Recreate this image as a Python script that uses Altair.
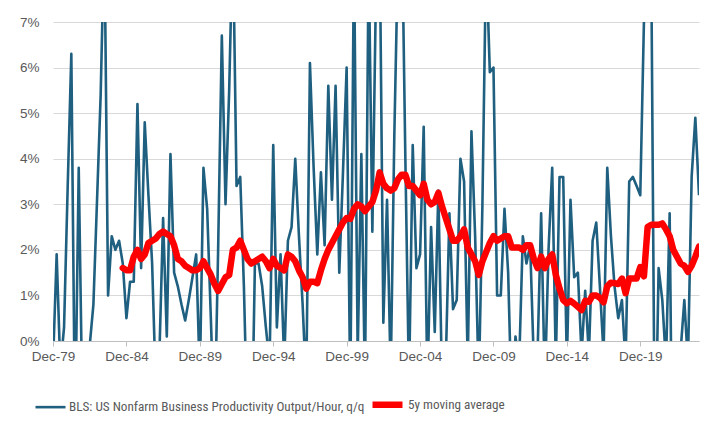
import altair as alt
import pandas as pd

# Quarterly productivity growth (annualised q/q, %), Dec-79 .. Dec-23
productivity = [
    -0.5, 1.9, -0.6, 0.3, 3.4, 6.3, -2.0, 3.8, -1.5, -1.5,
    -0.1, 0.8, 3.1, 5.4, 9.0, 1.0, 2.3, 2.0, 2.2, 1.7,
    0.5, 1.3, 1.3, 5.2, 1.6, 4.8, 3.2, 1.7, -1.0, -0.3,
    2.7, 0.1, 4.1, 1.5, 1.2, 0.8, 0.45, 0.9, 1.4, 1.9,
    -0.8, 3.8, 2.9, 0.5, -2.0, 2.0, 6.7, 3.0, 5.5, 9.0,
    3.4, 3.6, 1.2, -2.0, -3.0, 1.7, 1.7, 1.2, 0.3, -0.5,
    4.3, 0.3, 1.9, -0.5, 2.2, 2.5, 4.0, 2.3, 0.8, -1.0,
    6.1, 3.8, 1.9, 3.7, 2.1, 5.6, 3.1, 5.6, 1.5, 3.7,
    6.0, -1.2, 8.6, -0.3, 4.1, -1.0, 8.5, 2.4, 7.8, 9.0,
    0.4, 3.1, -0.8, 4.5, 8.5, 9.5, 4.0, -1.0, 4.3, 1.6,
    1.9, 4.7, -1.0, 2.5, 0.2, 3.3, -1.0, -0.5, 2.8, 0.7,
    0.9, 4.0, 3.5, -0.5, 4.6, 2.3, -1.0, 3.0, 8.5, 5.9,
    6.0, 1.0, 1.0, 2.9, 1.5, -1.5, 0.1, -0.5, 2.3, 1.7,
    2.1, -0.5, -0.3, 2.8, -1.0, 2.0, 3.8, -0.5, 3.6, 3.6,
    -0.5, 3.1, 1.4, 1.5, -0.3, 1.1, -0.3, 2.2, 2.6, 1.2,
    -0.3, 3.8, 2.3, 1.2, 0.5, 0.9, -0.5, 3.5, 3.6, 3.4,
    3.2, 7.0, 15.0, 8.0, -3.0, 1.6, 0.9, -0.5, 2.8, -5.0,
    -3.5, -0.2, 0.9, -0.5, 3.6, 4.9, 3.2,
]

# 5-year moving average (%), Sep-84 .. Dec-23
moving_avg = [
    1.6, 1.55, 1.55, 1.85, 2.0, 1.8, 1.9, 2.15, 2.2, 2.25,
    2.35, 2.4, 2.35, 2.3, 2.1, 1.8, 1.75, 1.65, 1.6, 1.55,
    1.55, 1.6, 1.75, 1.6, 1.45, 1.25, 1.1, 1.25, 1.4, 1.45,
    2.0, 2.05, 2.2, 2.0, 1.8, 1.7, 1.75, 1.8, 1.85, 1.75,
    1.6, 1.8, 1.65, 1.6, 1.55, 1.9, 1.85, 1.75, 1.55, 1.4,
    1.15, 1.3, 1.3, 1.27, 1.55, 1.8, 2.0, 2.15, 2.3, 2.45,
    2.6, 2.7, 2.68, 2.9, 3.0, 2.95, 2.85, 2.95, 3.05, 3.3,
    3.7, 3.45, 3.35, 3.3, 3.35, 3.55, 3.65, 3.65, 3.4, 3.4,
    3.3, 3.2, 3.45, 3.1, 3.0, 3.05, 3.25, 2.95, 2.7, 2.45,
    2.2, 2.2, 2.3, 2.45, 2.05, 1.9, 1.75, 1.45, 1.75, 1.95,
    2.15, 2.3, 2.2, 2.25, 2.3, 2.3, 2.05, 2.05, 2.05, 2.0,
    2.1, 2.1, 1.8, 1.6, 1.85, 1.6, 1.8, 1.9, 1.45, 1.15,
    0.9, 0.83, 0.88, 0.82, 0.75, 0.68, 0.88, 0.86, 1.0, 1.0,
    0.95, 0.85, 1.2, 1.28, 1.27, 1.25, 1.37, 1.05, 1.37, 1.37,
    1.37, 1.62, 1.42, 2.5, 2.55, 2.55, 2.55, 2.58, 2.45, 2.3,
    2.0, 1.85, 1.7, 1.65, 1.52, 1.65, 1.85, 2.07,
]

series_names = ["BLS: US Nonfarm Business Productivity Output/Hour, q/q",
                "5y moving average"]
series_colors = ["#1f5f7f", "#ff0000"]
series_widths = [2.6, 6.5]
tick_years = [1979, 1984, 1989, 1994, 1999, 2004, 2009, 2014, 2019]
y_ticks = [0, 1, 2, 3, 4, 5, 6, 7]

dates = pd.date_range("1979-12-01", periods=len(productivity), freq="3MS")
df_prod = pd.DataFrame({"date": dates, "value": productivity,
                        "series": series_names[0]})
df_ma = pd.DataFrame({"date": dates[len(dates) - len(moving_avg):],
                      "value": moving_avg, "series": series_names[1]})

FONT = "Liberation Sans"
LEG_FONT = "Liberation Sans Narrow, Roboto Condensed, Liberation Sans"
GREY = "#595959"

x_enc = alt.X(
    "date:T",
    scale=alt.Scale(domain=[alt.DateTime(year=1979, month=12, date=1),
                            alt.DateTime(year=2023, month=12, date=1)]),
    axis=alt.Axis(
        values=[alt.DateTime(year=y, month=12, date=1) for y in tick_years],
        format="%b-%y", title=None, grid=False, labelFlush=False,
        labelOverlap=False, tickSize=5, tickColor="#bfbfbf",
        domainColor="#bfbfbf", labelFont=FONT, labelFontSize=13.5,
        labelColor=GREY, labelPadding=3,
    ),
)
y_enc = alt.Y(
    "value:Q",
    scale=alt.Scale(domain=[0, 7], nice=False),
    axis=alt.Axis(
        values=y_ticks, labelExpr="datum.value + '%'", title=None,
        domain=False, ticks=False, gridColor="#d9d9d9", labelFont=FONT,
        labelFontSize=13.5, labelColor=GREY, labelPadding=14,
    ),
)
legend = alt.Legend(
    title=None, orient="none", legendX=-19, legendY=364,
    direction="horizontal", symbolType="stroke", symbolSize=900,
    labelFont=LEG_FONT, labelFontSize=13.2, labelColor=GREY,
    columnPadding=-6, labelOffset=2, padding=0, labelLimit=500,
)
color_enc = alt.Color(
    "series:N",
    scale=alt.Scale(domain=series_names, range=series_colors),
    legend=legend,
)
width_enc = alt.StrokeWidth(
    "series:N",
    scale=alt.Scale(domain=series_names, range=series_widths),
    legend=legend,
)

blue = alt.Chart(df_prod).mark_line(clip=True, strokeJoin="round").encode(
    x=x_enc, y=y_enc, color=color_enc, strokeWidth=width_enc
)
red = alt.Chart(df_ma).mark_line(
    clip=True, strokeJoin="round", strokeCap="round"
).encode(x=x_enc, y=y_enc, color=color_enc, strokeWidth=width_enc)

chart = alt.layer(blue, red).properties(
    width=646, height=319,
    autosize=alt.AutoSizeParams(type="none"),
    padding={"left": 45, "top": 14, "right": 10, "bottom": 80},
).configure_view(stroke=None)

chart.save("out.html", embed_options={"renderer": "svg", "actions": False})
